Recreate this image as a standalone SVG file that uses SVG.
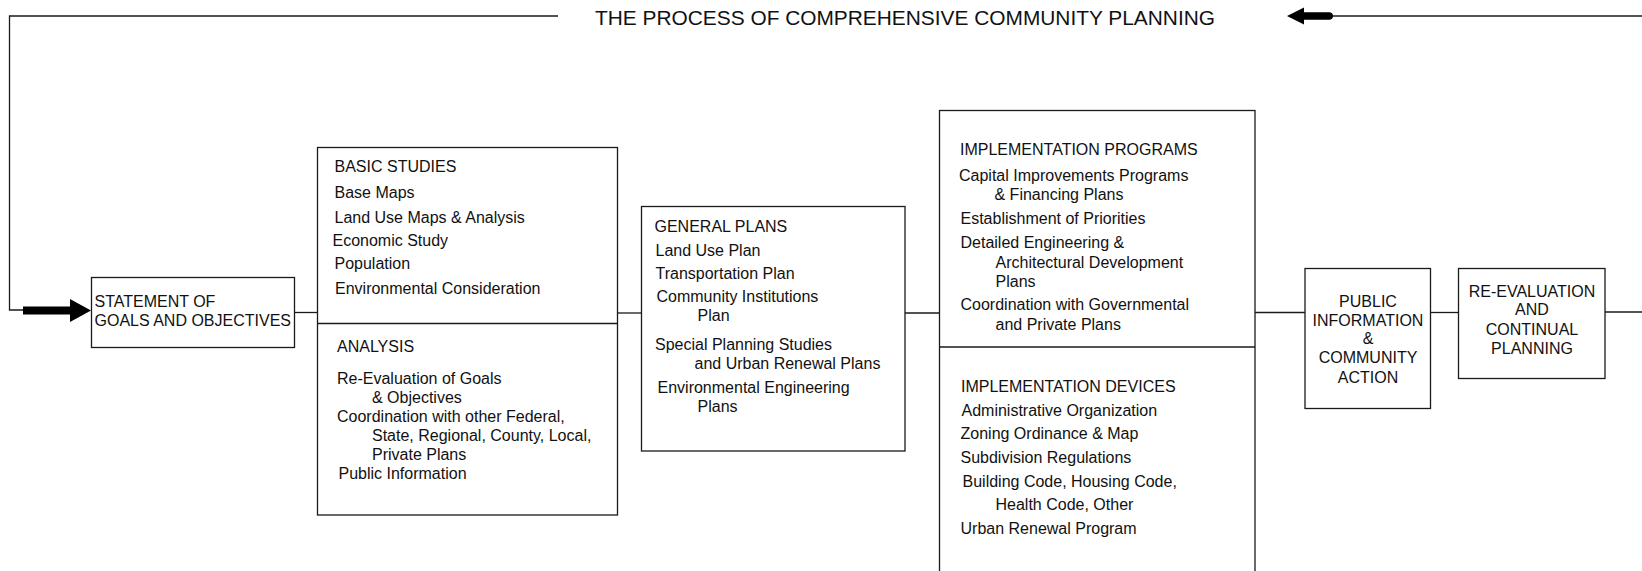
<svg xmlns="http://www.w3.org/2000/svg" width="1642" height="571" viewBox="0 0 1642 571">
<style>
.box{fill:#fff;stroke:#1a1a1a;stroke-width:1.3}
.ln{fill:none;stroke:#1a1a1a;stroke-width:1.3}
.ah{fill:#000;stroke:none}
text{font-family:"Liberation Sans",Arial,Helvetica,sans-serif;font-size:16px;fill:#111}
.c{text-anchor:middle}
.title{font-size:21px}
</style>
<rect width="1642" height="571" fill="#fff"/>
<g id="connectors">
<polyline class="ln" points="558,16 9.5,16 9.5,310 24,310"/>
<path class="ah" d="M23,306.5 H70 V299 L91,310.5 L70,322 V314.5 H23 Z"/>
<line class="ln" x1="1330" y1="16" x2="1642" y2="16"/>
<path class="ah" d="M1287,16 L1304,7.5 V12.2 H1329 Q1333,12.2 1333,16 Q1333,19.8 1329,19.8 H1304 V24.5 Z"/>
<line class="ln" x1="294" y1="312.5" x2="317" y2="312.5"/>
<line class="ln" x1="617" y1="313" x2="642" y2="313"/>
<line class="ln" x1="905" y1="313" x2="939" y2="313"/>
<line class="ln" x1="1255" y1="312.5" x2="1305" y2="312.5"/>
<line class="ln" x1="1430" y1="312.5" x2="1458" y2="312.5"/>
<line class="ln" x1="1605" y1="312" x2="1642" y2="312"/>
</g>
<g id="title">
<text class="title" x="595" y="25" textLength="620" lengthAdjust="spacingAndGlyphs">THE PROCESS OF COMPREHENSIVE COMMUNITY PLANNING</text>
</g>
<g id="statement">
<rect class="box" x="91.5" y="277.5" width="203" height="70"/>
<text x="94.5" y="306.5">STATEMENT OF</text>
<text x="94.5" y="326">GOALS AND OBJECTIVES</text>
</g>
<g id="studies">
<rect class="box" x="317.5" y="147.5" width="300" height="367.5"/>
<line class="ln" x1="317.5" y1="323.5" x2="617.5" y2="323.5"/>
<text x="334.5" y="171.5">BASIC STUDIES</text>
<text x="334.5" y="198">Base Maps</text>
<text x="334.5" y="223">Land Use Maps &amp; Analysis</text>
<text x="332.5" y="246">Economic Study</text>
<text x="334.5" y="269">Population</text>
<text x="335" y="294">Environmental Consideration</text>
<text x="337" y="352">ANALYSIS</text>
<text x="337" y="383.5">Re-Evaluation of Goals</text>
<text x="372" y="403">&amp; Objectives</text>
<text x="337" y="422">Coordination with other Federal,</text>
<text x="372" y="441">State, Regional, County, Local,</text>
<text x="372" y="460">Private Plans</text>
<text x="338.5" y="479">Public Information</text>
</g>
<g id="general">
<rect class="box" x="641.5" y="206.5" width="263.5" height="244.5"/>
<text x="654.5" y="231.5">GENERAL PLANS</text>
<text x="655.5" y="255.5">Land Use Plan</text>
<text x="655.5" y="279">Transportation Plan</text>
<text x="656.5" y="302">Community Institutions</text>
<text x="697.5" y="321">Plan</text>
<text x="655" y="350">Special Planning Studies</text>
<text x="694.5" y="369">and Urban Renewal Plans</text>
<text x="657.5" y="393">Environmental Engineering</text>
<text x="697.5" y="412">Plans</text>
</g>
<g id="implementation">
<rect class="box" x="939.5" y="110.5" width="315.5" height="470"/>
<line class="ln" x1="939.5" y1="347" x2="1255" y2="347"/>
<text x="960" y="155">IMPLEMENTATION PROGRAMS</text>
<text x="959" y="181">Capital Improvements Programs</text>
<text x="994.5" y="200">&amp; Financing Plans</text>
<text x="960.5" y="224">Establishment of Priorities</text>
<text x="960.5" y="248">Detailed Engineering &amp;</text>
<text x="995.5" y="268">Architectural Development</text>
<text x="995.5" y="286.5">Plans</text>
<text x="960.5" y="310">Coordination with Governmental</text>
<text x="995.5" y="330">and Private Plans</text>
<text x="961" y="392">IMPLEMENTATION DEVICES</text>
<text x="961.5" y="416">Administrative Organization</text>
<text x="960.5" y="439">Zoning Ordinance &amp; Map</text>
<text x="960.5" y="463">Subdivision Regulations</text>
<text x="962.5" y="486.5">Building Code, Housing Code,</text>
<text x="995.5" y="510">Health Code, Other</text>
<text x="960.5" y="534">Urban Renewal Program</text>
</g>
<g id="public">
<rect class="box" x="1305" y="268.5" width="125.5" height="140"/>
<text class="c" x="1368" y="306.5">PUBLIC</text>
<text class="c" x="1368" y="325.5">INFORMATION</text>
<text class="c" x="1368" y="344">&amp;</text>
<text class="c" x="1368" y="363">COMMUNITY</text>
<text class="c" x="1368" y="383">ACTION</text>
</g>
<g id="reevaluation">
<rect class="box" x="1458.5" y="268.5" width="146.5" height="110"/>
<text class="c" x="1532" y="296.5">RE-EVALUATION</text>
<text class="c" x="1532" y="315">AND</text>
<text class="c" x="1532" y="335">CONTINUAL</text>
<text class="c" x="1532" y="354">PLANNING</text>
</g>
</svg>
